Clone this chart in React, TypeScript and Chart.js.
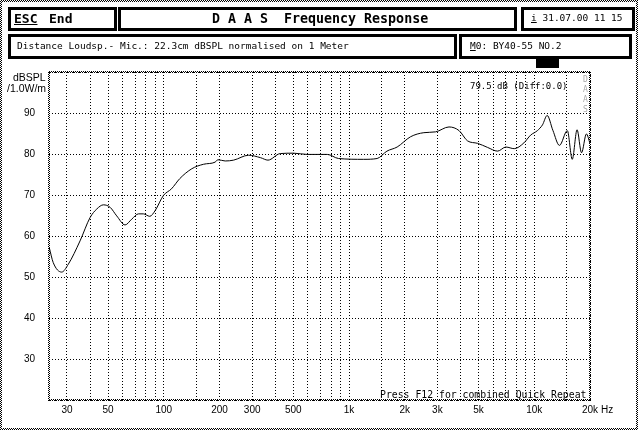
import React, { useEffect, useRef } from 'react';
import { Chart, registerables } from 'chart.js';
Chart.register(...registerables);

// Frequency response (Hz) and level (dBSPL /1.0W/m)
const freqs = [24.1, 25.3, 28.1, 30.5, 35.3, 40.0, 43.5, 47.2, 51.3, 55.7, 61.8, 67.1, 73, 77.6, 84, 89.8, 99.6, 110, 122, 141.6, 164, 189, 196, 214.6, 238, 287, 333, 365, 425, 502, 593, 763, 878, 1200, 1418, 1602, 1819, 2148, 2535, 2933, 3466, 3929, 4363, 4945, 5600, 6340, 7030, 7800, 8790, 9560, 10400, 11080, 11740, 12600, 13680, 15090, 16040, 17030, 18000, 19130, 20000];
const spl = [57.1, 53.5, 51.2, 53.1, 58.8, 64.5, 66.6, 67.6, 67.0, 64.9, 62.7, 64.1, 65.4, 65.4, 64.8, 66.2, 69.9, 71.5, 74.0, 76.4, 77.5, 78.0, 78.6, 78.3, 78.5, 79.7, 79.1, 78.5, 80.1, 80.2, 79.9, 79.9, 78.9, 78.7, 78.9, 80.7, 81.7, 84.2, 85.2, 85.4, 86.6, 85.7, 83.2, 82.6, 81.6, 80.7, 81.7, 81.3, 82.7, 84.6, 85.7, 87.1, 89.4, 85.8, 82.1, 85.7, 78.7, 85.9, 80.3, 84.9, 82.6];

const xGridValues = [30, 40, 50, 60, 70, 80, 90, 100, 150, 200, 300, 400, 500, 600, 700, 800, 900, 1000, 1500, 2000, 3000, 4000, 5000, 6000, 7000, 8000, 9000, 10000, 15000, 20000];
const xLabelValues = [30, 50, 100, 200, 300, 500, 1000, 2000, 3000, 5000, 10000, 20000];
const xLabelTexts = ['30', '50', '100', '200', '300', '500', '1k', '2k', '3k', '5k', '10k', '20k'];
const yLabelValues = [30, 40, 50, 60, 70, 80, 90];

const MONO = '"DejaVu Sans Mono", "Liberation Mono", monospace';
const SANS = '"Liberation Sans", Arial, sans-serif';

function makeChecker(): HTMLCanvasElement {
  const pc = document.createElement('canvas');
  pc.width = 2;
  pc.height = 2;
  const p = pc.getContext('2d')!;
  p.fillStyle = '#000';
  p.fillRect(0, 0, 1, 1);
  p.fillRect(1, 1, 1, 1);
  return pc;
}

const framePlugin = {
  id: 'ditherFrame',
  beforeDatasetsDraw(chart: any) {
    const { ctx, chartArea: a } = chart;
    const pat = ctx.createPattern(makeChecker(), 'repeat');
    const l = Math.round(a.left), r = Math.round(a.right), t = Math.round(a.top), b = Math.round(a.bottom);
    ctx.save();
    ctx.fillStyle = pat;
    ctx.fillRect(l - 1, t - 1, r - l + 2, 2);
    ctx.fillRect(l - 1, b - 1, r - l + 2, 2);
    ctx.fillRect(l - 1, t - 1, 2, b - t + 2);
    ctx.fillRect(r - 1, t - 1, 2, b - t + 2);
    ctx.restore();
  },
};

const checkerBg = 'repeating-conic-gradient(#000 0% 25%, #fff 0% 50%) 0 0 / 2px 2px';

function Txt(props: { x: number; cy: number; size: number; font?: string; bold?: boolean; color?: string; children: React.ReactNode }) {
  const lh = 14;
  return (
    <div
      style={{
        position: 'absolute',
        left: props.x,
        top: props.cy - lh / 2,
        lineHeight: lh + 'px',
        fontSize: props.size + 'px',
        fontFamily: props.font || MONO,
        fontWeight: props.bold ? 'bold' : 'normal',
        color: props.color || '#000',
        whiteSpace: 'pre',
      }}
    >
      {props.children}
    </div>
  );
}

function Box(props: { x: number; y: number; w: number; h: number }) {
  return (
    <div
      style={{
        position: 'absolute',
        left: props.x,
        top: props.y,
        width: props.w,
        height: props.h,
        border: '3px solid #000',
        boxSizing: 'border-box',
      }}
    />
  );
}

export default function App() {
  const ref = useRef<HTMLCanvasElement>(null);

  useEffect(() => {
    document.body.style.margin = '0';
    const canvas = ref.current!;
    const chart = new Chart(canvas, {
      type: 'line',
      data: {
        datasets: [
          {
            data: freqs.map((f, i) => ({ x: f, y: spl[i] })),
            borderColor: '#000',
            borderWidth: 1,
            pointRadius: 0,
            fill: false,
            cubicInterpolationMode: 'monotone',
          },
        ],
      },
      options: {
        animation: false,
        responsive: false,
        devicePixelRatio: 1,
        layout: { padding: { left: 0, top: 72, right: 50, bottom: 0 } },
        plugins: { legend: { display: false }, tooltip: { enabled: false }, title: { display: false } },
        scales: {
          x: {
            type: 'logarithmic',
            min: 24,
            max: 20000,
            afterBuildTicks: (scale: any) => {
              scale.ticks = xGridValues.map((v) => ({ value: v }));
            },
            afterFit: (scale: any) => {
              scale.height = 31;
            },
            border: { display: false },
            grid: { color: '#000', lineWidth: 1, drawTicks: false, tickBorderDash: [1, 2] as any, borderDash: [1, 2] } as any,
            ticks: {
              autoSkip: false,
              maxRotation: 0,
              minRotation: 0,
              padding: 4,
              color: '#000',
              font: { family: SANS, size: 10 },
              callback: (v: any) => {
                const idx = xLabelValues.indexOf(Number(v));
                return idx >= 0 ? xLabelTexts[idx] : '';
              },
            },
          },
          y: {
            type: 'linear',
            min: 20,
            max: 100,
            afterFit: (scale: any) => {
              scale.width = 49;
            },
            border: { display: false, dash: [1, 2] },
            grid: { color: '#000', lineWidth: 1, drawTicks: false } as any,
            ticks: {
              stepSize: 10,
              padding: 14,
              color: '#000',
              font: { family: SANS, size: 10 },
              callback: (v: any) => (yLabelValues.indexOf(Number(v)) >= 0 ? String(v) : ''),
            },
          },
        },
      } as any,
      plugins: [framePlugin],
    });
    // dotted grid lines
    (chart.options.scales as any).x.border.dash = [1, 2];
    (chart.options.scales as any).y.border.dash = [1, 2];
    (chart.options.scales as any).x.grid.borderDash = [1, 2];
    chart.update();
    return () => chart.destroy();
  }, []);

  return (
    <div style={{ position: 'fixed', left: 0, top: 0, width: 640, height: 431, background: '#fff', overflow: 'hidden' }}>
      <canvas ref={ref} width={640} height={431} style={{ position: 'absolute', left: 0, top: 0, width: 640, height: 431 }} />
      {/* outer dithered frame */}
      <div style={{ position: 'absolute', left: 0, top: 0, width: 638, height: 2, background: checkerBg }} />
      <div style={{ position: 'absolute', left: 0, top: 428, width: 638, height: 2, background: checkerBg }} />
      <div style={{ position: 'absolute', left: 0, top: 0, width: 2, height: 430, background: checkerBg }} />
      <div style={{ position: 'absolute', left: 636, top: 0, width: 2, height: 430, background: checkerBg }} />

      <Box x={8} y={7} w={109} h={24} />
      <Box x={118} y={7} w={399} h={24} />
      <Box x={521} y={7} w={114} h={24} />
      <Box x={8} y={34} w={449} h={25} />
      <Box x={459} y={34} w={173} h={25} />
      <div style={{ position: 'absolute', left: 536, top: 59, width: 23, height: 9, background: '#000' }} />

      <Txt x={14} cy={19} size={13} bold>
        <span style={{ textDecoration: 'underline' }}>ESC</span>
      </Txt>
      <Txt x={49} cy={19} size={13} bold>End</Txt>
      <Txt x={212} cy={19} size={13.3} bold>{'D A A S  Frequency Response'}</Txt>
      <Txt x={531} cy={18} size={9.5}>
        <span style={{ textDecoration: 'underline' }}>i</span>
        {' 31.07.00 11 15'}
      </Txt>
      <Txt x={17} cy={46} size={9.5}>{'Distance Loudsp.- Mic.: 22.3cm dBSPL normalised on 1 Meter'}</Txt>
      <Txt x={470} cy={46} size={9.5}>
        <span style={{ textDecoration: 'underline' }}>M</span>
        {'0: BY40-55 NO.2'}
      </Txt>

      <Txt x={13} cy={77} size={10.5} font={SANS}>dBSPL</Txt>
      <Txt x={7} cy={88} size={10.5} font={SANS}>/1.0W/m</Txt>
      <Txt x={470} cy={86} size={9}>{'79.5 dB (Diff:0.0)'}</Txt>
      <div style={{ position: 'absolute', left: 581, top: 75, width: 9, fontFamily: MONO, fontSize: '8px', lineHeight: '10px', color: '#aaa', textAlign: 'center' }}>
        D<br />A<br />A<br />S
      </div>
      <Txt x={380} cy={395} size={9.8}>{'Press F12 for combined Quick Repeat'}</Txt>
      <Txt x={601} cy={409.5} size={10} font={SANS}>Hz</Txt>
    </div>
  );
}
